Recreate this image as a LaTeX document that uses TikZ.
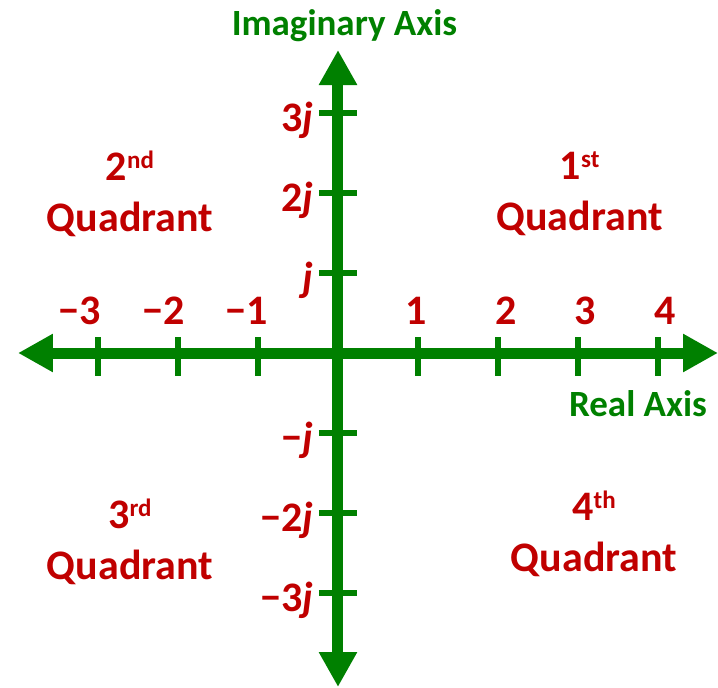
\documentclass[tikz,border=0pt]{standalone}
\usepackage{fontspec}
\setmainfont{Carlito}
\usetikzlibrary{arrows.meta,positioning}

\definecolor{axisgreen}{RGB}{0,128,0}
\definecolor{labelred}{RGB}{192,0,0}
\newcommand{\sups}[1]{\raisebox{6pt}{\fontsize{12.5}{12.5}\selectfont #1}}

\begin{document}
\begin{tikzpicture}[x=40pt,y=40pt,
    >={Triangle[length=17.5pt,width=18pt]},
    axis/.style={axisgreen, line width=5.5pt},
    tickmark/.style={axisgreen, line width=3pt},
    num/.style={labelred, font=\fontsize{21}{21}\selectfont\bfseries, anchor=base, inner sep=0pt},
    quad/.style={labelred, font=\fontsize{21}{25.5}\selectfont\bfseries, align=center, anchor=north, inner sep=0pt},
    axislabel/.style={axisgreen, font=\fontsize{18.5}{18.5}\selectfont\bfseries, anchor=base, inner sep=0pt}]
    \useasboundingbox (-4.225,-4.175) rectangle (4.75,4.4125);

    % Axes with arrows at both ends
    \coordinate (west) at (-4,0);
    \coordinate (east) at (4.75,0);
    \coordinate (north) at (0,3.7875);
    \coordinate (south) at (0,-4.175);

    \foreach \x in {-3,-2,-1,1,2,3,4} {
        \draw[tickmark] (\x,0.2) -- (\x,-0.2875);
    }
    \foreach \y in {-3,-2,-1,1,2,3} {
        \draw[tickmark] (-0.2375,\y) -- (0.2375,\y);
    }
    \draw[axis, <->] (west) -- (east);
    \draw[axis, <->] (south) -- (north);

    % Real numbers
    \node[num] (re-3) at (-3.225,0.358) {−3};
    \node[num] (re-2) at (-2.183,0.358) {−2};
    \node[num] (re-1) at (-1.142,0.358) {−1};
    \node[num] (re1) at (0.983,0.358) {1};
    \node[num] (re2) at (2.098,0.358) {2};
    \node[num] (re3) at (3.088,0.358) {3};
    \node[num] (re4) at (4.088,0.358) {4};

    % Imaginary numbers
    \node[num, anchor=base east] (im3) at (-0.3,2.77) {3\textit{j}};
    \node[num, anchor=base east] (im2) at (-0.3,1.77) {2\textit{j}};
    \node[num, anchor=base east] (im1) at (-0.3,0.77) {\textit{j}};
    \node[num, anchor=base east] (im-1) at (-0.3,-1.23) {−\textit{j}};
    \node[num, anchor=base east] (im-2) at (-0.3,-2.23) {−2\textit{j}};
    \node[num, anchor=base east] (im-3) at (-0.3,-3.23) {−3\textit{j}};

    % Axis names
    \node[axislabel] (imag) at (0.081,3.966) {Imaginary Axis};
    \node[axislabel] (real) at (3.75,-0.796) {Real Axis};

    % Quadrants
    \node[quad] (q1) at (3.02,2.52) {1\sups{st}\\Quadrant};
    \node[quad] (q2) at (-2.6,2.529) {2\sups{nd}\\Quadrant};
    \node[quad] (q3) at (-2.6,-1.816) {3\sups{rd}\\Quadrant};
    \node[quad] (q4) at (3.2,-1.72) {4\sups{th}\\Quadrant};
\end{tikzpicture}
\end{document}
